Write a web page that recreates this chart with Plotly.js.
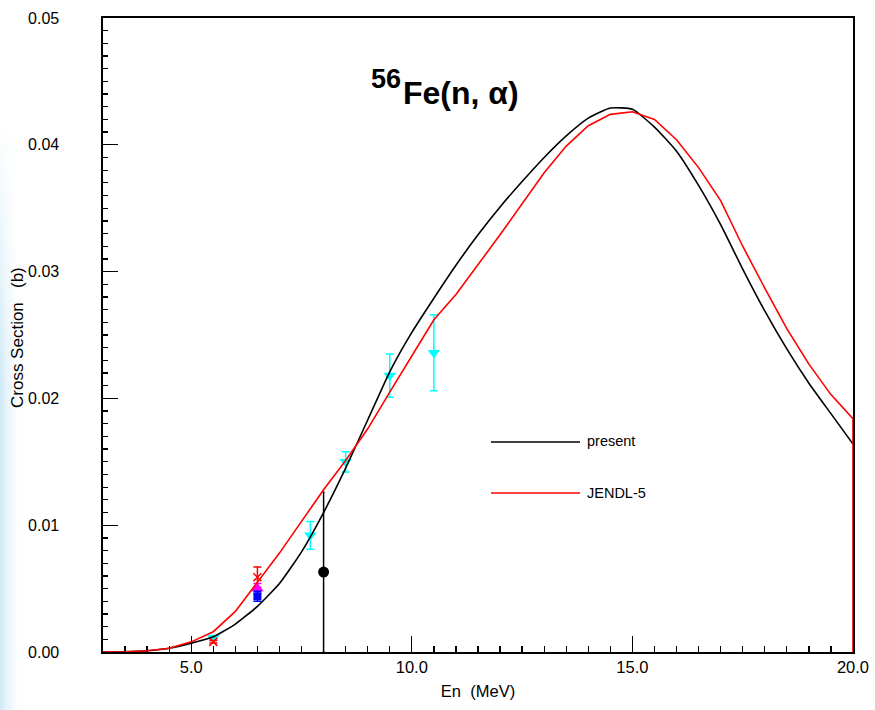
<!DOCTYPE html>
<html>
<head>
<meta charset="utf-8">
<script src="https://cdn.plot.ly/plotly-3.0.1.min.js"></script>
<style>
  html, body { margin:0; padding:0; background:#ffffff; }
  #edge { position:absolute; left:0; top:120px; width:18px; height:590px;
          background: linear-gradient(to right, #cde9f6 0px, #e4f3fa 6px, rgba(255,255,255,0) 18px);
          -webkit-mask-image: linear-gradient(to bottom, rgba(0,0,0,0), rgba(0,0,0,1) 45%);
          mask-image: linear-gradient(to bottom, rgba(0,0,0,0), rgba(0,0,0,1) 45%); }
  #plot { position:absolute; left:0; top:0; width:875px; height:710px; }
</style>
</head>
<body>
<div id="edge"></div>
<div id="plot"></div>
<script>
// ---- evaluated curves ----
const presentE  = [3, 3.5, 4, 4.5, 5, 5.5, 6, 6.5, 7, 7.5, 8, 8.5, 9, 9.5, 10, 10.5, 11, 11.5, 12, 12.5, 13, 13.5, 14, 14.5, 15, 15.5, 16, 16.5, 17, 17.5, 18, 18.5, 19, 19.5, 20];
const presentXS = [0, 0.00002, 0.0001, 0.0003, 0.0007, 0.0012, 0.0022, 0.0036, 0.0054, 0.0079, 0.0110, 0.0145, 0.0183, 0.0221, 0.0252, 0.0279, 0.0305, 0.0329, 0.0351, 0.0371, 0.0390, 0.0407, 0.0421, 0.0429, 0.0428, 0.0414, 0.0395, 0.0368, 0.0337, 0.0302, 0.0269, 0.0239, 0.0212, 0.0188, 0.0164];

const jendlE  = [3, 3.5, 4, 4.5, 5, 5.5, 6, 6.5, 7, 7.5, 8, 8.5, 9, 9.5, 10, 10.5, 11, 12, 13, 13.5, 14, 14.5, 15, 15.5, 16, 16.5, 17, 17.5, 18, 18.5, 19, 19.5, 20, 20];
const jendlXS = [0, 0.00002, 0.0001, 0.0003, 0.0008, 0.0016, 0.0032, 0.0055, 0.0078, 0.0103, 0.0128, 0.0151, 0.0176, 0.0205, 0.0234, 0.0262, 0.0282, 0.0329, 0.0378, 0.0399, 0.0415, 0.0424, 0.0426, 0.0420, 0.0404, 0.0382, 0.0356, 0.0320, 0.0287, 0.0255, 0.0227, 0.0203, 0.0184, 0];

// ---- experimental data ----
const cyanE   = [5.5, 7.7, 8.5, 9.5, 10.5];
const cyanXS  = [0.0011, 0.0092, 0.0150, 0.0218, 0.0236];
const cyanErr = [0.0002, 0.0011, 0.0008, 0.0017, 0.0030];

const blackE   = [8.0];
const blackXS  = [0.0063];
const blackErr = [0.0063];

const redE   = [5.5, 6.5];
const redXS  = [0.0008, 0.0059];
const redErr = [0.0001, 0.0008];

const magE   = [6.5];
const magXS  = [0.0050];
const magErr = [0.0004];

const blueE   = [6.5];
const blueXS  = [0.0044];
const blueErr = [0.0004];

const legendNames = ['present', 'JENDL-5'];
const titleMass = '56';
const titleReaction = 'Fe(n, \u03b1)';
const xTitle = 'En\u00a0 (MeV)';
const yTitle = 'Cross Section\u00a0\u00a0 (b)';

const FONT = 'Liberation Sans, Arial, Helvetica, sans-serif';

const traces = [
  { x: cyanE, y: cyanXS, type: 'scatter', mode: 'markers', showlegend: false,
    marker: { symbol: 'triangle-down', size: 11, color: '#00ffff' },
    error_y: { type: 'data', array: cyanErr, visible: true, color: '#00ffff', thickness: 1.5, width: 4 } },
  { x: blackE, y: blackXS, type: 'scatter', mode: 'markers', showlegend: false,
    marker: { symbol: 'circle', size: 11, color: '#000000' },
    error_y: { type: 'data', array: blackErr, visible: true, color: '#000000', thickness: 1.5, width: 1 } },
  { x: redE, y: redXS, type: 'scatter', mode: 'markers', showlegend: false,
    marker: { symbol: 'x-thin', size: 8, color: '#ff0000', line: { color: '#ff0000', width: 1.5 } },
    error_y: { type: 'data', array: redErr, visible: true, color: '#ff0000', thickness: 1.5, width: 4 } },
  { x: magE, y: magXS, type: 'scatter', mode: 'markers', showlegend: false,
    marker: { symbol: 'triangle-up', size: 11, color: '#ff00ff' },
    error_y: { type: 'data', array: magErr, visible: true, color: '#ff00ff', thickness: 1.5, width: 4 } },
  { x: blueE, y: blueXS, type: 'scatter', mode: 'markers', showlegend: false,
    marker: { symbol: 'square', size: 8, color: '#0000ff' },
    error_y: { type: 'data', array: blueErr, visible: true, color: '#0000ff', thickness: 1.5, width: 4 } },
  { x: presentE, y: presentXS, type: 'scatter', mode: 'lines', name: legendNames[0], showlegend: false,
    line: { color: '#000000', width: 1.6, shape: 'spline', smoothing: 0.5 } },
  { x: jendlE, y: jendlXS, type: 'scatter', mode: 'lines', name: legendNames[1], showlegend: false,
    line: { color: '#ff0000', width: 1.6 } }
];

const px = v => (v - 103) / 750;
const py = v => (652 - v) / 634;

const layout = {
  width: 875, height: 710,
  margin: { l: 103, r: 22, t: 18, b: 58 },
  paper_bgcolor: 'rgba(0,0,0,0)',
  plot_bgcolor: '#ffffff',
  showlegend: false,
  font: { family: FONT, size: 16, color: '#000000' },
  xaxis: {
    range: [3, 20], tick0: 0, dtick: 5, tickformat: '.1f',
    ticks: 'inside', ticklen: 16, tickwidth: 1.3, tickcolor: '#000',
    minor: { dtick: 0.5, tick0: 0, ticks: 'inside', ticklen: 6, tickwidth: 1.3, tickcolor: '#000', showgrid: false },
    showline: true, linecolor: '#000', linewidth: 1.6, mirror: true,
    showgrid: false, zeroline: false, layer: 'below traces',
    tickfont: { family: FONT, size: 16.5, color: '#000' },
    title: { text: xTitle, font: { family: FONT, size: 16.5, color: '#000' }, standoff: 10 }
  },
  yaxis: {
    range: [0, 0.05], tick0: 0, dtick: 0.01, tickformat: '.2f',
    ticks: 'inside', ticklen: 15, tickwidth: 1.3, tickcolor: '#000',
    minor: { dtick: 0.001, tick0: 0, ticks: 'inside', ticklen: 5, tickwidth: 1.3, tickcolor: '#000', showgrid: false },
    showline: true, linecolor: '#000', linewidth: 1.6, mirror: true,
    showgrid: false, zeroline: false, layer: 'below traces',
    ticklabelstandoff: 39,
    tickfont: { family: FONT, size: 16, color: '#000' }
  },
  shapes: [
    { type: 'line', xref: 'paper', yref: 'paper', x0: px(491), x1: px(580), y0: py(442), y1: py(442),
      line: { color: '#000000', width: 1.6 } },
    { type: 'line', xref: 'paper', yref: 'paper', x0: px(491), x1: px(580), y0: py(493), y1: py(493),
      line: { color: '#ff0000', width: 1.6 } }
  ],
  annotations: [
    { xref: 'paper', yref: 'paper', x: px(17), y: py(338), xanchor: 'center', yanchor: 'middle', showarrow: false,
      textangle: -90, text: yTitle, font: { family: FONT, size: 17, color: '#000' } },
    { xref: 'paper', yref: 'paper', x: px(585), y: py(441), xanchor: 'left', yanchor: 'middle', showarrow: false,
      text: legendNames[0], font: { family: FONT, size: 14.5, color: '#000' } },
    { xref: 'paper', yref: 'paper', x: px(585), y: py(493), xanchor: 'left', yanchor: 'middle', showarrow: false,
      text: legendNames[1], font: { family: FONT, size: 14.5, color: '#000' } },
    { xref: 'paper', yref: 'paper', x: px(403), y: py(79), xanchor: 'right', yanchor: 'middle', showarrow: false,
      text: '<b>' + titleMass + '</b>', font: { family: FONT, size: 27, color: '#000' } },
    { xref: 'paper', yref: 'paper', x: px(401), y: py(93), xanchor: 'left', yanchor: 'middle', showarrow: false,
      text: '<b>' + titleReaction + '</b>', font: { family: FONT, size: 32, color: '#000' } }
  ]
};

Plotly.newPlot('plot', traces, layout, { displayModeBar: false, staticPlot: true });
</script>
</body>
</html>
